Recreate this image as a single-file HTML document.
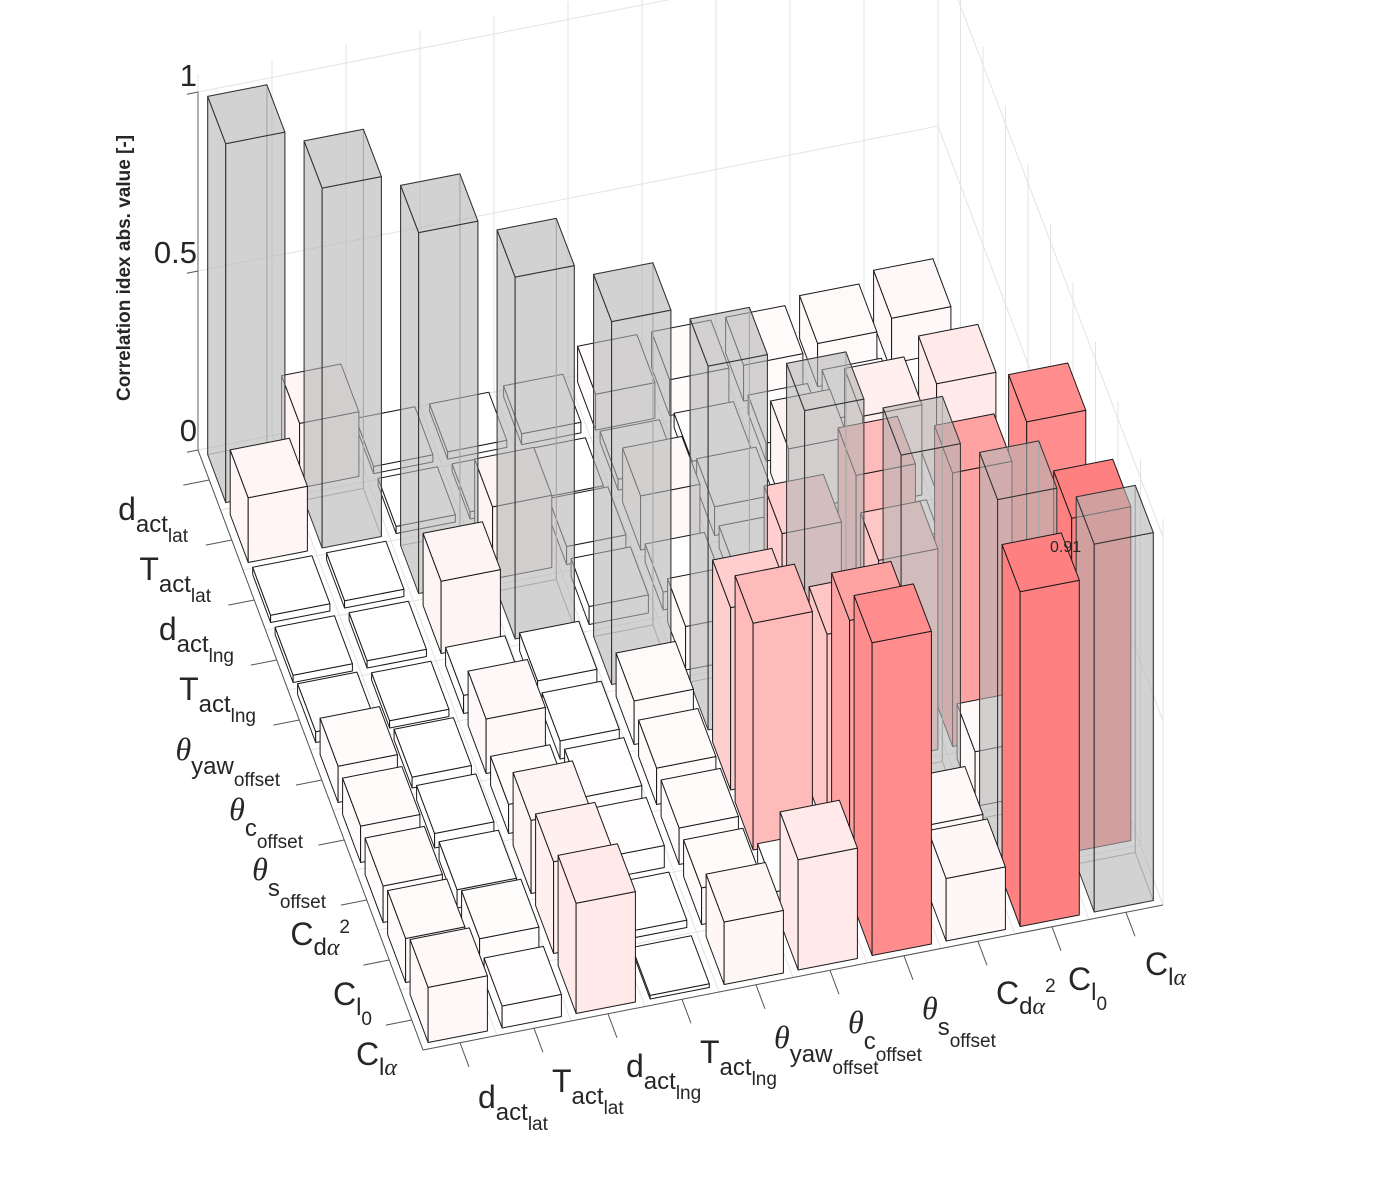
<!DOCTYPE html>
<html><head><meta charset="utf-8"><style>
html,body{margin:0;padding:0;background:#fff;}
svg{display:block;}
text{font-family:"Liberation Sans",Arial,sans-serif;fill:#262626;}
.g{font-family:"Liberation Serif",serif;font-style:italic;}
</style></head><body>
<svg id="s" width="1374" height="1203" viewBox="0 0 1374 1203" xmlns="http://www.w3.org/2000/svg">
<g id="grid"></g>
<g id="bars"></g>
<text x="1050" y="552" font-size="16" fill="#111">0.91</text>
<text x="197" y="86" font-size="31" text-anchor="end">1</text>
<text x="197" y="263" font-size="31" text-anchor="end">0.5</text>
<text x="197" y="441" font-size="31" text-anchor="end">0</text>
<text transform="translate(130,268) rotate(-90)" font-size="19" font-weight="bold" text-anchor="middle" fill="#000">Correlation idex abs. value [-]</text>
<g font-size="32" text-anchor="end">
<text x="188" y="520">d<tspan dy="12" font-size="24">act</tspan><tspan dy="10" font-size="19">lat</tspan></text>
<text x="211" y="580">T<tspan dy="12" font-size="24">act</tspan><tspan dy="10" font-size="19">lat</tspan></text>
<text x="234" y="640">d<tspan dy="12" font-size="24">act</tspan><tspan dy="10" font-size="19">lng</tspan></text>
<text x="256" y="700">T<tspan dy="12" font-size="24">act</tspan><tspan dy="10" font-size="19">lng</tspan></text>
<text x="280" y="760"><tspan class="g">θ</tspan><tspan dy="14" font-size="24">yaw</tspan><tspan dy="12" font-size="19">offset</tspan></text>
<text x="303" y="820"><tspan class="g">θ</tspan><tspan dy="16" font-size="24">c</tspan><tspan dy="12" font-size="19">offset</tspan></text>
<text x="326" y="880"><tspan class="g">θ</tspan><tspan dy="16" font-size="24">s</tspan><tspan dy="12" font-size="19">offset</tspan></text>
<text x="350" y="945">C<tspan dy="10" font-size="24">d<tspan class="g">α</tspan></tspan><tspan dy="-22" font-size="19">2</tspan></text>
<text x="372" y="1005">C<tspan dy="10" font-size="24">l</tspan><tspan dy="10" font-size="19">0</tspan></text>
<text x="397" y="1065">C<tspan dy="10" font-size="24">l<tspan class="g">α</tspan></tspan></text>
</g>
<g font-size="32">
<text x="478" y="1108">d<tspan dy="12" font-size="24">act</tspan><tspan dy="10" font-size="19">lat</tspan></text>
<text x="552" y="1092">T<tspan dy="12" font-size="24">act</tspan><tspan dy="10" font-size="19">lat</tspan></text>
<text x="626" y="1077">d<tspan dy="12" font-size="24">act</tspan><tspan dy="10" font-size="19">lng</tspan></text>
<text x="700" y="1063">T<tspan dy="12" font-size="24">act</tspan><tspan dy="10" font-size="19">lng</tspan></text>
<text x="774" y="1048"><tspan class="g">θ</tspan><tspan dy="14" font-size="24">yaw</tspan><tspan dy="12" font-size="19">offset</tspan></text>
<text x="848" y="1033"><tspan class="g">θ</tspan><tspan dy="16" font-size="24">c</tspan><tspan dy="12" font-size="19">offset</tspan></text>
<text x="922" y="1019"><tspan class="g">θ</tspan><tspan dy="16" font-size="24">s</tspan><tspan dy="12" font-size="19">offset</tspan></text>
<text x="996" y="1004">C<tspan dy="10" font-size="24">d<tspan class="g">α</tspan></tspan><tspan dy="-22" font-size="19">2</tspan></text>
<text x="1068" y="990">C<tspan dy="10" font-size="24">l</tspan><tspan dy="10" font-size="19">0</tspan></text>
<text x="1145" y="975">C<tspan dy="10" font-size="24">l<tspan class="g">α</tspan></tspan></text>
</g>
</svg>
<script>
(function(){
var NS="http://www.w3.org/2000/svg";
function P(x,y,z){var H=358+1.0*y;return [198+74*x+22.5*y,450-14.5*x+60*y-z*H];}
function line(g,a,b,c,w){var e=document.createElementNS(NS,"line");e.setAttribute("x1",a[0].toFixed(1));e.setAttribute("y1",a[1].toFixed(1));e.setAttribute("x2",b[0].toFixed(1));e.setAttribute("y2",b[1].toFixed(1));e.setAttribute("stroke",c);e.setAttribute("stroke-width",w);g.appendChild(e);}
function poly(g,pts,fill,op,stroke){var e=document.createElementNS(NS,"polygon");e.setAttribute("points",pts.map(function(p){return p[0].toFixed(1)+","+p[1].toFixed(1);}).join(" "));e.setAttribute("fill",fill);if(op<1)e.setAttribute("fill-opacity",op);e.setAttribute("stroke",stroke);e.setAttribute("stroke-width","1");e.setAttribute("stroke-linejoin","round");g.appendChild(e);}
var G=document.getElementById("grid"),B=document.getElementById("bars");
var gc="#e3e3e3";
for(var k=0;k<=10;k++){
 line(G,P(k,0,0),P(k,10,0),gc,1);
 line(G,P(0,k,0),P(10,k,0),gc,1);
 line(G,P(k,0,0),P(k,0,1.05),gc,1);
 line(G,P(10,k,0),P(10,k,1.05),gc,1);
}
[0,0.5,1].forEach(function(z){line(G,P(0,0,z),P(10,0,z),gc,1);line(G,P(10,0,z),P(10,10,z),gc,1);});
line(G,P(0,0,0),P(0,0,1),"#666",1);
line(G,P(0,0,0),P(0,10,0),"#555",1);
line(G,P(0,10,0),P(10,10,0),"#555",1);
for(var k=0;k<10;k++){
 line(G,P(k+0.5,10,0),P(k+0.5,10.4,0),"#555",1);
 line(G,P(0,k+0.5,0),P(-0.35,k+0.5,0),"#555",1);
}
[0,0.5,1].forEach(function(z){line(G,P(0,0,z),P(-0.15,0,z),"#555",1);});
var L=[[],[0.18],[0.02,0.02],[0.02,0.02,0.2],[0.03,0.02,0.05,0.05],[0.1,0.03,0.15,0.05,0.12],
[0.1,0.04,0.08,0.06,0.1,0.5],[0.1,0.05,0.2,0.06,0.1,0.62,0.55],[0.12,0.08,0.25,0.02,0.1,0.05,0.75,0.15],
[0.15,0.06,0.3,0.01,0.17,0.3,0.85,0.17,0.91]];
function V(i,j){if(i==j)return 1;return j>i?L[j][i]:L[i][j];}
var cells=[];
for(var i=0;i<10;i++)for(var j=0;j<10;j++)cells.push([i,j,V(i,j),-0.31*(i+.5)+0.94*(j+.5)]);
cells.sort(function(a,b){return a[3]-b[3];});
cells.forEach(function(c){
 var i=c[0],j=c[1],v=c[2];var x0=i+0.1,x1=i+0.9,y0=j+0.1,y1=j+0.9;
 var fill,op=1,st="#1a1a1a";
 if(i==j){fill="#b4b4b4";op=0.6;st="#333";}
 else{var t=Math.min(1,v/0.91);var g=Math.round(255-127*Math.pow(t,1.6));fill="rgb(255,"+g+","+g+")";}
 if(i==j){
  poly(B,[P(x1,y0,0),P(x1,y1,0),P(x1,y1,v),P(x1,y0,v)],"none",1,"#999");
  poly(B,[P(x0,y0,0),P(x1,y0,0),P(x1,y0,v),P(x0,y0,v)],"none",1,"#999");
 }
 poly(B,[P(x0,y0,0),P(x0,y1,0),P(x0,y1,v),P(x0,y0,v)],fill,op,st);
 poly(B,[P(x0,y1,0),P(x1,y1,0),P(x1,y1,v),P(x0,y1,v)],fill,op,st);
 poly(B,[P(x0,y0,v),P(x1,y0,v),P(x1,y1,v),P(x0,y1,v)],fill,op,st);
});
})();
</script>
</body></html>
